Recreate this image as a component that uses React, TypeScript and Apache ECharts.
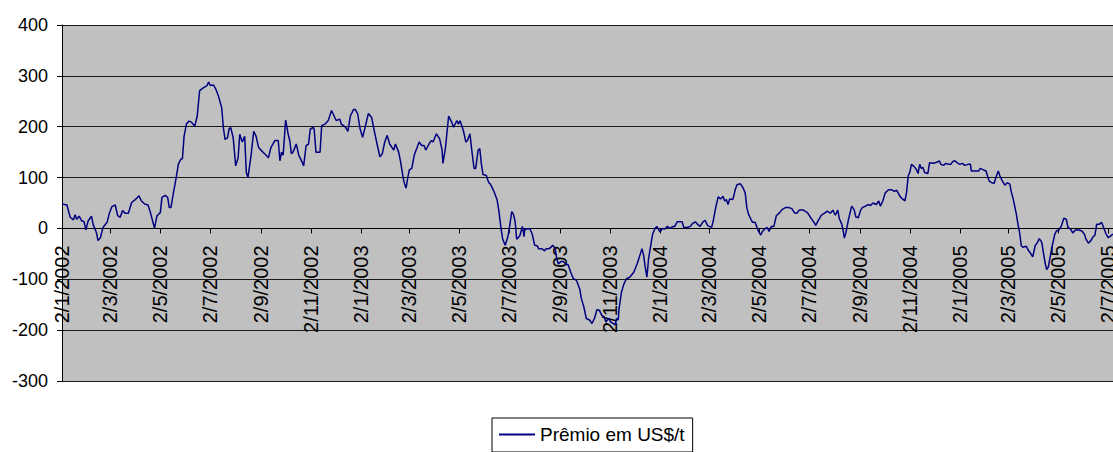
import React, { useEffect, useRef } from "react";
import * as echarts from "echarts";

const seriesName = "Prêmio em US$/t";
const startDate = [2002, 1, 2]; // 2/1/2002 (d/m/yyyy)
const totalDays = 1284;
const yTicks = { min: -300, max: 400, interval: 100 };

// days since 2/1/2002
const days = [
  0, 6, 10, 14, 16, 18, 21, 24, 27, 29, 32, 36, 38, 42, 44, 47, 50, 55, 58, 61, 65, 68, 71, 74, 77, 81, 85, 89, 94, 97,
  101, 105, 108, 111, 113, 116, 120, 122, 126, 129, 131, 133, 136, 138, 140, 142, 145, 147, 149, 152, 155, 158, 162, 165,
  168, 172, 177, 179, 181, 185, 188, 191, 195, 197, 199, 202, 204, 206, 209, 211, 212, 215, 217, 220, 223, 225, 227, 229,
  231, 234, 237, 240, 244, 248, 252, 255,
  260, 264, 266, 268, 270, 273, 276, 278, 280, 282, 286, 289, 293, 295, 298, 301, 303, 307, 308, 310, 315, 317, 321, 325,
  329, 333, 335, 339, 341, 346, 349, 352, 356, 358, 361, 364, 367, 370, 374, 378, 382, 385, 388, 391, 394, 397, 400, 405,
  407, 411, 413, 416, 417, 418, 420, 422, 424, 427, 430, 433, 436, 439, 442, 444, 448, 451, 453, 457, 461, 464, 465, 468,
  472, 476, 478, 482, 484, 486, 490, 493, 495, 498, 500, 503, 505, 508, 510,
  512, 514, 518, 521, 523, 527, 531, 533, 536, 538, 541, 544, 546, 549, 551, 553, 554, 555, 557, 559, 562, 564, 565, 568,
  571, 574, 577, 580, 582, 586, 589, 591, 594, 597, 599, 602, 604, 606, 609, 612, 615, 618, 621, 624, 628, 632, 634, 637,
  640, 644, 647, 650, 653, 656, 659, 662, 664, 667, 670, 673, 675, 677, 679, 680, 683, 686, 689, 693, 698, 702, 704, 706,
  708, 710, 712, 714, 716, 718, 721, 724, 726, 730, 733, 736, 739, 742, 746, 748, 751, 757, 759, 763,
  767, 770, 773, 776, 779, 782, 785, 788, 790, 793, 795, 798, 801, 804, 807, 809, 811, 813, 815, 819, 822, 824, 828, 831,
  834, 836, 838, 841, 843, 846, 848, 850, 853, 855, 858, 861, 863, 866, 869, 872, 876, 879, 883, 887, 891, 894, 897, 900,
  905, 910, 914, 918, 920, 923, 927, 931, 934, 938, 941, 944, 947, 949, 952, 954, 955, 957, 960, 964, 967, 969, 972, 975,
  977, 981, 984, 987, 990, 994, 997, 999, 1002, 1005, 1009, 1013, 1016, 1019,
  1023, 1026, 1029, 1031, 1033, 1035, 1037, 1040, 1043, 1045, 1047, 1049, 1051, 1053, 1057, 1059, 1063, 1066, 1069, 1071,
  1073, 1076, 1079, 1082, 1085, 1087, 1090, 1093, 1096, 1099, 1102, 1106, 1109, 1110, 1115, 1119, 1121, 1125, 1128, 1130,
  1132, 1135, 1138, 1140, 1143, 1145, 1148, 1151, 1154, 1157, 1159, 1161, 1163, 1165, 1167, 1169, 1171, 1173, 1177, 1180,
  1182, 1185, 1188, 1191, 1193, 1196, 1198, 1200, 1202, 1204, 1207, 1209, 1212, 1214, 1217, 1220, 1223, 1226, 1228, 1231,
  1234, 1237, 1241, 1245, 1248, 1250, 1253, 1256, 1258, 1261, 1263, 1266, 1269, 1272, 1274, 1277, 1279, 1283,
];

// Prêmio em US$/t
const premium = [
  48, 46, 22, 17, 27, 18, 24, 15, 13, -3, 15, 24, 8, -8, -24, -18, 2, 12, 31, 43, 46, 25, 22, 35, 30, 30, 51, 56, 64, 54,
  48, 46, 31, 12, 1, 25, 31, 61, 65, 61, 41, 41, 70, 87, 106, 126, 136, 137, 181, 206, 211, 209, 201, 220,
  271, 276, 281, 288, 281, 282, 273, 260, 237, 198, 175, 178, 196, 198, 178, 142, 123, 139, 185, 170, 181, 110, 100, 123,
  146, 191, 181, 159, 152, 146, 139, 159,
  173, 173, 133, 150, 144, 213, 186, 173, 147, 150, 166, 144, 131, 123, 163, 166, 195, 199, 192, 150, 150, 202, 205, 212,
  232, 218, 212, 215, 205, 199, 191, 221, 234, 234, 225, 195, 179, 199, 226, 218, 186, 163, 141, 147, 170, 183, 166, 154,
  166, 150, 134, 105, 95, 89, 79, 99, 115, 118, 144, 157, 170, 163, 163, 154, 166, 173, 170, 186, 176, 154, 128, 157,
  221, 208, 199, 212, 205, 212, 192, 170, 173, 186, 157, 118, 118, 154, 157,
  126, 106, 104, 90, 87, 74, 57, 38, -1, -21, -33, -18, -1, 33, 28, 15, -1, -21, -18, -14, 4, -16, -1, -1,
  0, -11, -33, -34, -40, -40, -44, -40, -40, -37, -33, -39, -60, -70, -65, -65, -70, -72, -86, -98, -102, -119, -138, -154,
  -177, -180, -187, -177, -160, -161, -171, -174, -184, -177, -184, -187, -190, -177, -180, -158, -125, -109, -99, -96, -86, -70, -60, -50,
  -40, -53, -76, -96, -60, -40, -11, 0, 4, -7, 0, -1, 4, 0, 4, 4, 13, 13, 2, 2,
  4, 10, 13, 8, 4, 12, 16, 6, 4, 2, 15, 41, 62, 58, 63, 54, 57, 47, 58, 57, 77, 86, 88, 81,
  70, 41, 28, 18, 12, 12, 4, -5, -13, -6, -1, 2, -6, 4, 4, 25, 31, 37, 41, 41, 39, 31, 30, 36,
  36, 31, 21, 12, 6, 15, 26, 30, 34, 30, 36, 26, 36, 19, 8, -8, -19, -8, 17, 44, 37, 23, 21, 36,
  41, 44, 47, 45, 50, 47, 54, 44, 54, 70, 76, 76, 73, 75,
  63, 58, 54, 71, 103, 111, 126, 122, 116, 108, 126, 118, 120, 110, 108, 129, 128, 129, 131, 133,
  126, 124, 128, 126, 126, 131, 133, 129, 126, 128, 124, 126, 126, 113, 113, 113, 118, 115, 113, 102,
  93, 90, 89, 100, 113, 103, 93, 85, 90, 87, 71, 59, 44, 28, 8, -8, -34, -37, -35, -44,
  -48, -56, -34, -27, -20, -27, -47, -67, -81, -76, -50, -33, -11, -5, -3, 5, 20, 18, 2, -1,
  -9, -3, -3, -5, -11, -21, -29, -24, -18, -13, 8, 8, 12, 0, -9, -18, -16, -11,
];

function buildCategories(): string[] {
  const out: string[] = [];
  const base = Date.UTC(startDate[0], startDate[1] - 1, startDate[2]);
  for (let i = 0; i < totalDays; i++) {
    const dt = new Date(base + i * 86400000);
    out.push(`${dt.getUTCDate()}/${dt.getUTCMonth() + 1}/${dt.getUTCFullYear()}`);
  }
  return out;
}

const FONT = "'Liberation Sans', Arial, sans-serif";
const GRID_TOP = 25;
const GRID_BOTTOM = 71;
const CHART_H = 452;

export default function App() {
  const ref = useRef<HTMLDivElement>(null);
  useEffect(() => {
    document.body.style.margin = "0";
    if (!ref.current) return;
    const chart = echarts.init(ref.current, undefined, { renderer: "svg" });
    const cats = buildCategories();
    const showTick = (_i: number, v: string) => {
      const p = v.split("/");
      return p[0] === "2" && Number(p[1]) % 2 === 1;
    };
    // distance (px) from plot bottom (min) up to the zero line
    const plotH = CHART_H - GRID_TOP - GRID_BOTTOM;
    const zeroOffset = ((0 - yTicks.min) / (yTicks.max - yTicks.min)) * plotH;
    chart.setOption({
      animation: false,
      backgroundColor: "#ffffff",
      grid: {
        left: 62,
        right: 0,
        top: GRID_TOP,
        bottom: GRID_BOTTOM,
        containLabel: false,
        outerBoundsMode: "none",
        show: true,
        backgroundColor: "#C0C0C0",
        borderWidth: 0,
      },
      legend: {
        data: [seriesName],
        left: 492,
        top: 418,
        orient: "horizontal",
        borderColor: "#000",
        borderWidth: 1,
        padding: [7, 8, 8, 7],
        icon: "rect",
        itemWidth: 36,
        itemHeight: 2,
        textStyle: { fontSize: 19, color: "#000", fontFamily: FONT },
      },
      xAxis: {
        type: "category",
        data: cats,
        boundaryGap: false,
        position: "bottom",
        offset: -zeroOffset,
        axisLine: { onZero: false, lineStyle: { color: "#000", width: 1 } },
        axisTick: { show: true, length: 5, interval: showTick, lineStyle: { color: "#000" } },
        axisLabel: {
          interval: showTick,
          rotate: 90,
          margin: 17,
          fontSize: 20,
          color: "#000",
          fontFamily: FONT,
        },
        splitLine: { show: false },
      },
      yAxis: {
        type: "value",
        min: yTicks.min,
        max: yTicks.max,
        interval: yTicks.interval,
        axisLine: { show: true, lineStyle: { color: "#000", width: 1 } },
        axisTick: { show: true, length: 5, lineStyle: { color: "#000" } },
        axisLabel: { margin: 14, fontSize: 18, color: "#000", fontFamily: FONT },
        splitLine: { show: true, lineStyle: { color: "#1a1a1a", width: 1 } },
      },
      series: [
        {
          name: seriesName,
          type: "line",
          data: days.map((d, i) => [cats[d], premium[i]]),
          symbol: "none",
          showSymbol: false,
          lineStyle: { color: "#000080", width: 1.5 },
          itemStyle: { color: "#000080" },
        },
      ],
    });
    return () => chart.dispose();
  }, []);
  return (
    <div
      ref={ref}
      style={{ position: "absolute", left: 0, top: 0, width: 1113, height: 452 }}
    />
  );
}
